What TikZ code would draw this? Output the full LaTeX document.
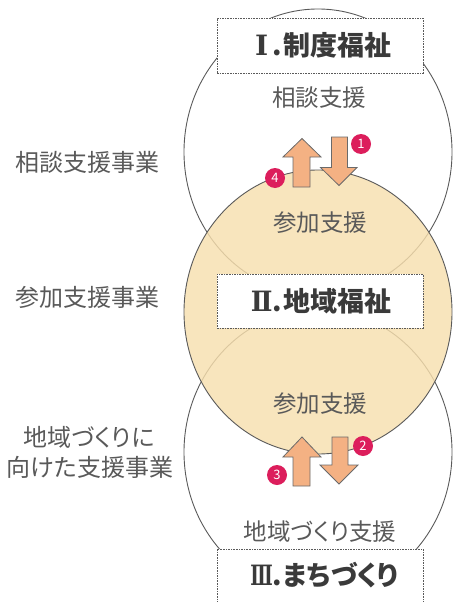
\documentclass[tikz,border=0pt]{standalone}
\usepackage{graphicx}
\usepackage{fontspec}
\setmainfont{Noto Sans CJK JP}[RawFeature=+palt]
\newfontfamily\numfont{DejaVu Serif}
\newcommand{\romnum}[2][1]{\makebox[21pt][c]{\scalebox{#1}[1]{\numfont\fontsize{28}{30}\selectfont #2}}}
\definecolor{lineg}{HTML}{5A5A5A}
\definecolor{txtg}{HTML}{595959}
\definecolor{ttlg}{HTML}{3A3A3A}
\definecolor{beige}{HTML}{F7DFAE}
\definecolor{arrfill}{HTML}{F4B183}
\definecolor{arrline}{HTML}{6A6A6A}
\definecolor{badgec}{HTML}{DC1E5C}
\tikzset{
  ring/.style={draw=lineg, line width=0.9pt},
  titlebox/.style={draw=lineg, dash pattern=on 1.6pt off 1pt, fill=white, line width=0.8pt, minimum width=206pt, inner sep=0pt},
  lbl/.style={text=txtg, font=\fontsize{23.5}{26}\selectfont, inner sep=0pt},
  side/.style={text=txtg, font=\fontsize{24}{26}\selectfont, inner sep=0pt},
  ttl/.style={text=ttlg, font=\bfseries\fontsize{27}{30}\selectfont, inner sep=0pt, anchor=west},
  arr/.style={fill=arrfill, draw=arrline, line width=0.8pt, line join=miter},
  badge/.style={circle, fill=badgec, minimum size=20pt, inner sep=0pt, text=white, font=\fontsize{13}{13}\selectfont},
}
\begin{document}
\begin{tikzpicture}[x=1pt,y=-1pt]
\useasboundingbox (0,0) rectangle (453,602);
% outer rings
\draw[ring] (318,152) ellipse [x radius=134, y radius=143];
\draw[ring] (318,452) ellipse [x radius=134, y radius=143];
% middle filled ring
\fill[beige, fill opacity=0.82] (318,312) ellipse [x radius=134, y radius=142];
\draw[ring] (318,312) ellipse [x radius=134, y radius=142];
% boxes
\node[titlebox, minimum height=55pt] (box1) at (320,45.5) {};
\node[titlebox, minimum height=54pt] (box2) at (320,301) {};
\node[titlebox, minimum height=61pt] (box3) at (320,579.5) {};
% titles
\node[ttl] (t1) at (251,45) {\romnum{Ⅰ}.\hspace{1.5pt}制度福祉};
\node[ttl] (t2) at (251,301.5) {\romnum[0.92]{Ⅱ}.\hspace{1.5pt}地域福祉};
\node[ttl] (t3) at (251,575.5) {\romnum[0.66]{Ⅲ}.\hspace{1.5pt}まちづくり};
% inner labels
\node[lbl] (l1) at (319,97.5) {相談支援};
\node[lbl] (l2) at (320,222.5) {参加支援};
\node[lbl] (l3) at (320,404) {参加支援};
\node[lbl] (l4) at (320,532) {地域づくり支援};
% left labels
\node[side] (s1) at (88,162) {相談支援事業};
\node[side] (s2) at (88,297) {参加支援事業};
\node[side] (s3) at (89,437.5) {地域づくりに};
\node[side] (s4) at (90,467) {向けた支援事業};
% top arrows
\draw[arr] (293,187) -- (293,157) -- (283,157) -- (302,138.5) -- (321,157) -- (310,157) -- (310,187) -- cycle;
\draw[arr] (331.5,137) -- (347.5,137) -- (347.5,167.5) -- (357,167.5) -- (339,185.5) -- (320.5,167.5) -- (331.5,167.5) -- cycle;
% bottom arrows
\draw[arr] (293,486) -- (293,457) -- (283,457) -- (302,437) -- (321,457) -- (310,457) -- (310,486) -- cycle;
\draw[arr] (332,437) -- (348,437) -- (348,465) -- (358,465) -- (339,484) -- (320,465) -- (332,465) -- cycle;
% badges
\node[badge] (n1) at (361,144) {1};
\node[badge] (n4) at (275,178) {4};
\node[badge] (n2) at (363,446) {2};
\node[badge] (n3) at (277,475) {3};
\end{tikzpicture}
\end{document}
